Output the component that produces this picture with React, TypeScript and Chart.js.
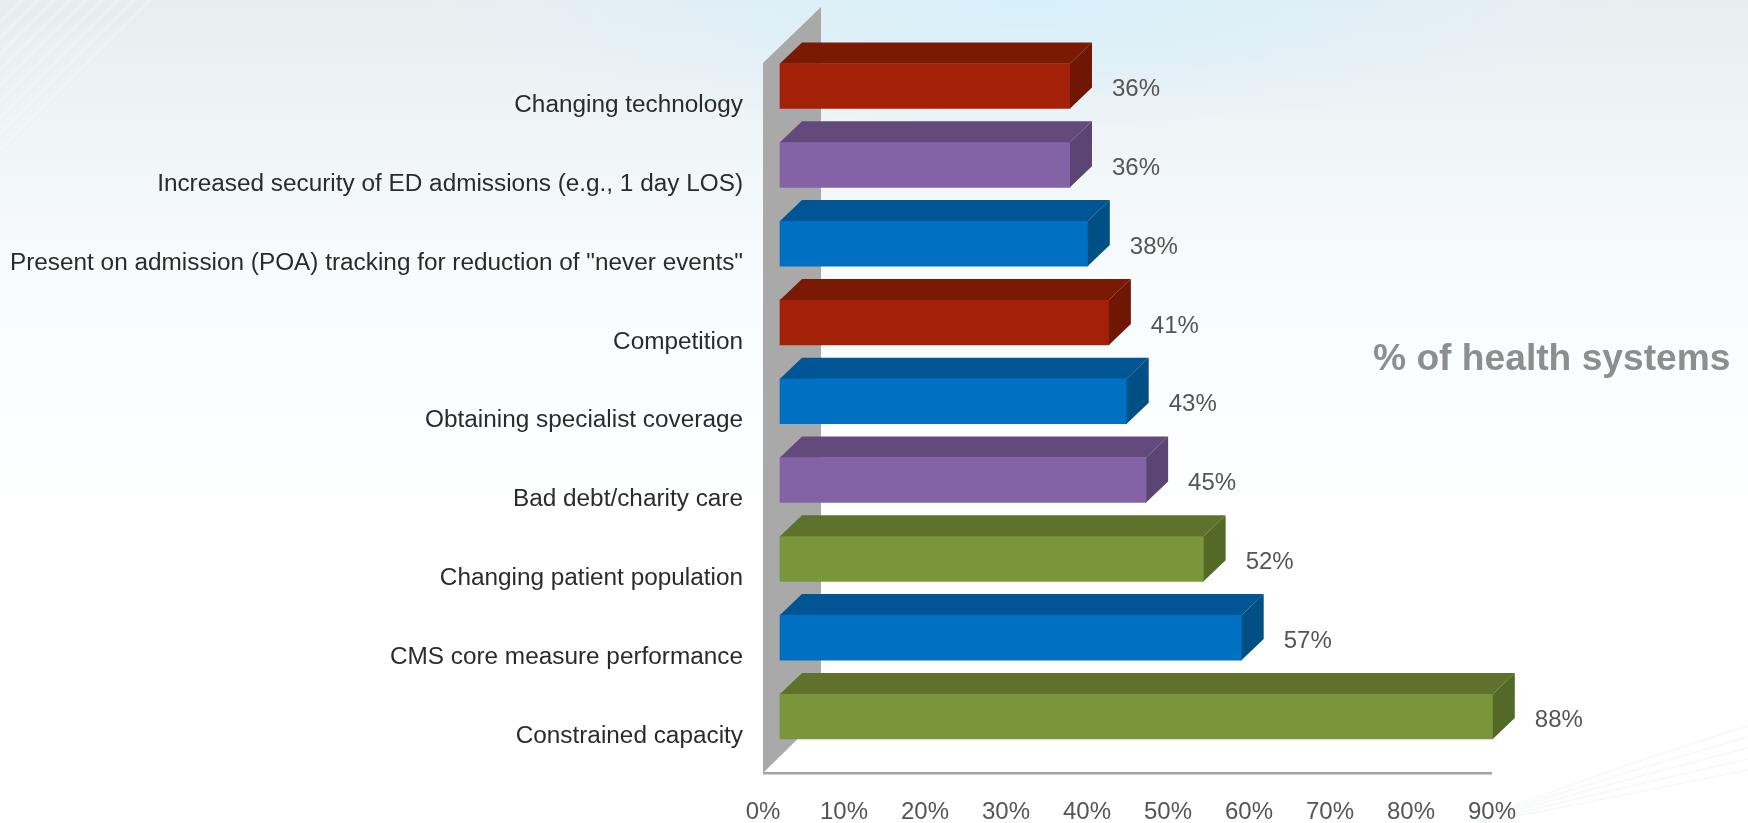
import React, { useEffect, useRef } from "react";
import { Chart, registerables } from "chart.js";

Chart.register(...registerables);

const categories = [
  "Changing technology",
  "Increased security of ED admissions (e.g., 1 day LOS)",
  'Present on admission (POA) tracking for reduction of "never events"',
  "Competition",
  "Obtaining specialist coverage",
  "Bad debt/charity care",
  "Changing patient population",
  "CMS core measure performance",
  "Constrained capacity",
];
const barValues = [35.8, 35.8, 38, 40.6, 42.8, 45.2, 52.3, 57, 88];
const valueLabels = ["36%", "36%", "38%", "41%", "43%", "45%", "52%", "57%", "88%"];
const frontColors = ["#a32109", "#8363a5", "#0070c2", "#a32109", "#0070c2", "#8363a5", "#7a963a", "#0070c2", "#7a963a"];
const topColors = ["#7b1a04", "#644a7c", "#005595", "#7b1a04", "#005595", "#644a7c", "#5e722c", "#005595", "#5e722c"];
const sideColors = ["#6f1604", "#5c4572", "#004f85", "#6f1604", "#004f85", "#5c4572", "#546928", "#004f85", "#546928"];
const axisTitle = "% of health systems";

const DEPTH_X = 22;
const DEPTH_Y = 21;

const poly = (ctx: CanvasRenderingContext2D, pts: number[][], fill: string) => {
  ctx.beginPath();
  pts.forEach((p, i) => (i ? ctx.lineTo(p[0], p[1]) : ctx.moveTo(p[0], p[1])));
  ctx.closePath();
  ctx.fillStyle = fill;
  ctx.fill();
};

const pinPlotArea = {
  id: "pinPlotArea",
  afterLayout(chart: any) {
    const y = chart.scales.y;
    y.top = 46.6;
    y.bottom = 755.8;
    y.height = 709.2;
    y.configure();
    chart.chartArea.top = 46.6;
    chart.chartArea.bottom = 755.8;
    chart.chartArea.height = 709.2;
  },
};

const backdrop = {
  id: "backdrop",
  beforeDraw(chart: any) {
    const { ctx, width, height } = chart;
    ctx.save();
    const g = ctx.createLinearGradient(0, 0, 0, height);
    g.addColorStop(0, "#e8eef0");
    g.addColorStop(0.18, "#f0f5f8");
    g.addColorStop(0.35, "#f8fcfe");
    g.addColorStop(0.65, "#ffffff");
    g.addColorStop(1, "#ffffff");
    ctx.fillStyle = g;
    ctx.fillRect(0, 0, width, height);

    // blue glow along the middle of the top edge
    ctx.save();
    ctx.translate(1030, 0);
    ctx.scale(1, 0.22);
    const glow = ctx.createRadialGradient(0, 0, 0, 0, 0, 620);
    glow.addColorStop(0, "rgba(212,240,250,0.95)");
    glow.addColorStop(0.5, "rgba(218,240,249,0.6)");
    glow.addColorStop(1, "rgba(225,240,248,0)");
    ctx.fillStyle = glow;
    ctx.fillRect(-620, 0, 1240, 620);
    ctx.restore();

    // faint sweeping streaks in two corners of the slide
    ctx.strokeStyle = "rgba(255,255,255,0.28)";
    ctx.lineWidth = 2;
    for (let i = 0; i < 9; i++) {
      ctx.beginPath();
      ctx.moveTo(0, 150 - i * 16);
      ctx.lineTo(150 - i * 16, 0);
      ctx.stroke();
    }
    ctx.strokeStyle = "rgba(232,238,242,0.45)";
    ctx.lineWidth = 1.5;
    for (let i = 0; i < 5; i++) {
      ctx.beginPath();
      ctx.moveTo(1480, 823 - i);
      ctx.quadraticCurveTo(1600, 800 - i * 7, 1748, 770 - i * 11);
      ctx.stroke();
    }

    // side wall and axis line of the 3D box
    poly(ctx, [[763, 63], [821, 7], [821, 716], [763, 773]], "#a9a9a9");
    poly(ctx, [[765, 773], [821, 717], [1492, 717], [1492, 773]], "#ffffff");
    ctx.fillStyle = "#a3a3a3";
    ctx.fillRect(763, 772, 729, 2.5);
    ctx.restore();
  },
};

const faces = {
  id: "faces",
  afterDatasetsDraw(chart: any) {
    const { ctx } = chart;
    const meta = chart.getDatasetMeta(0);
    ctx.save();
    meta.data.forEach((bar: any, i: number) => {
      const { x, y, base, height } = bar.getProps(["x", "y", "base", "height"], true);
      const y0 = y - height / 2;
      const y1 = y + height / 2;
      poly(ctx, [[base, y0], [base + DEPTH_X, y0 - DEPTH_Y], [x + DEPTH_X, y0 - DEPTH_Y], [x, y0]], topColors[i]);
      poly(ctx, [[x, y0], [x + DEPTH_X, y0 - DEPTH_Y], [x + DEPTH_X, y1 - DEPTH_Y], [x, y1]], sideColors[i]);
      ctx.fillStyle = "#555555";
      ctx.font = '24px "Liberation Sans"';
      ctx.textAlign = "left";
      ctx.textBaseline = "middle";
      ctx.fillText(valueLabels[i], x + 42, y + 3.5);
    });
    ctx.fillStyle = "#8e8e8e";
    ctx.font = 'bold 37.2px "Liberation Sans"';
    ctx.textAlign = "left";
    ctx.textBaseline = "middle";
    ctx.fillText(axisTitle, 1373, 360);
    ctx.restore();
  },
};

export default function App() {
  const ref = useRef<HTMLCanvasElement>(null);
  useEffect(() => {
    const chart = new Chart(ref.current!, {
      type: "bar",
      data: {
        labels: categories,
        datasets: [
          {
            data: barValues,
            backgroundColor: frontColors,
            barThickness: 45,
            borderWidth: 0,
            clip: false as any,
          },
        ],
      },
      options: {
        indexAxis: "y",
        responsive: false,
        animation: false,
        layout: { autoPadding: false, padding: { top: 46.6, right: 239, left: 0, bottom: 0 } },
        plugins: { legend: { display: false }, tooltip: { enabled: false } },
        scales: {
          x: {
            type: "linear",
            min: 0,
            max: 90,
            grid: { display: false, drawTicks: false },
            border: { display: false },
            ticks: {
              stepSize: 10,
              maxRotation: 0,
              autoSkip: false,
              labelOffset: -17,
              padding: 42,
              color: "#555555",
              font: { family: "Liberation Sans", size: 24 },
              callback: (v: any) => `${v}%`,
            },
            afterFit: (s: any) => {
              s.height = 67.2;
            },
          },
          y: {
            type: "category",
            grid: { display: false, drawTicks: false },
            border: { display: false },
            ticks: {
              autoSkip: false,
              labelOffset: 19.5,
              padding: 37,
              color: "#2b2b2b",
              font: { family: "Liberation Sans", size: 24.35 },
            },
            afterFit: (s: any) => {
              s.width = 780;
            },
          },
        },
      },
      plugins: [pinPlotArea, backdrop, faces],
    } as any);
    return () => chart.destroy();
  }, []);
  return (
    <canvas
      ref={ref}
      width={1748}
      height={823}
      style={{ position: "fixed", left: 0, top: 0, width: 1748, height: 823, filter: "blur(0.5px)" }}
    />
  );
}
